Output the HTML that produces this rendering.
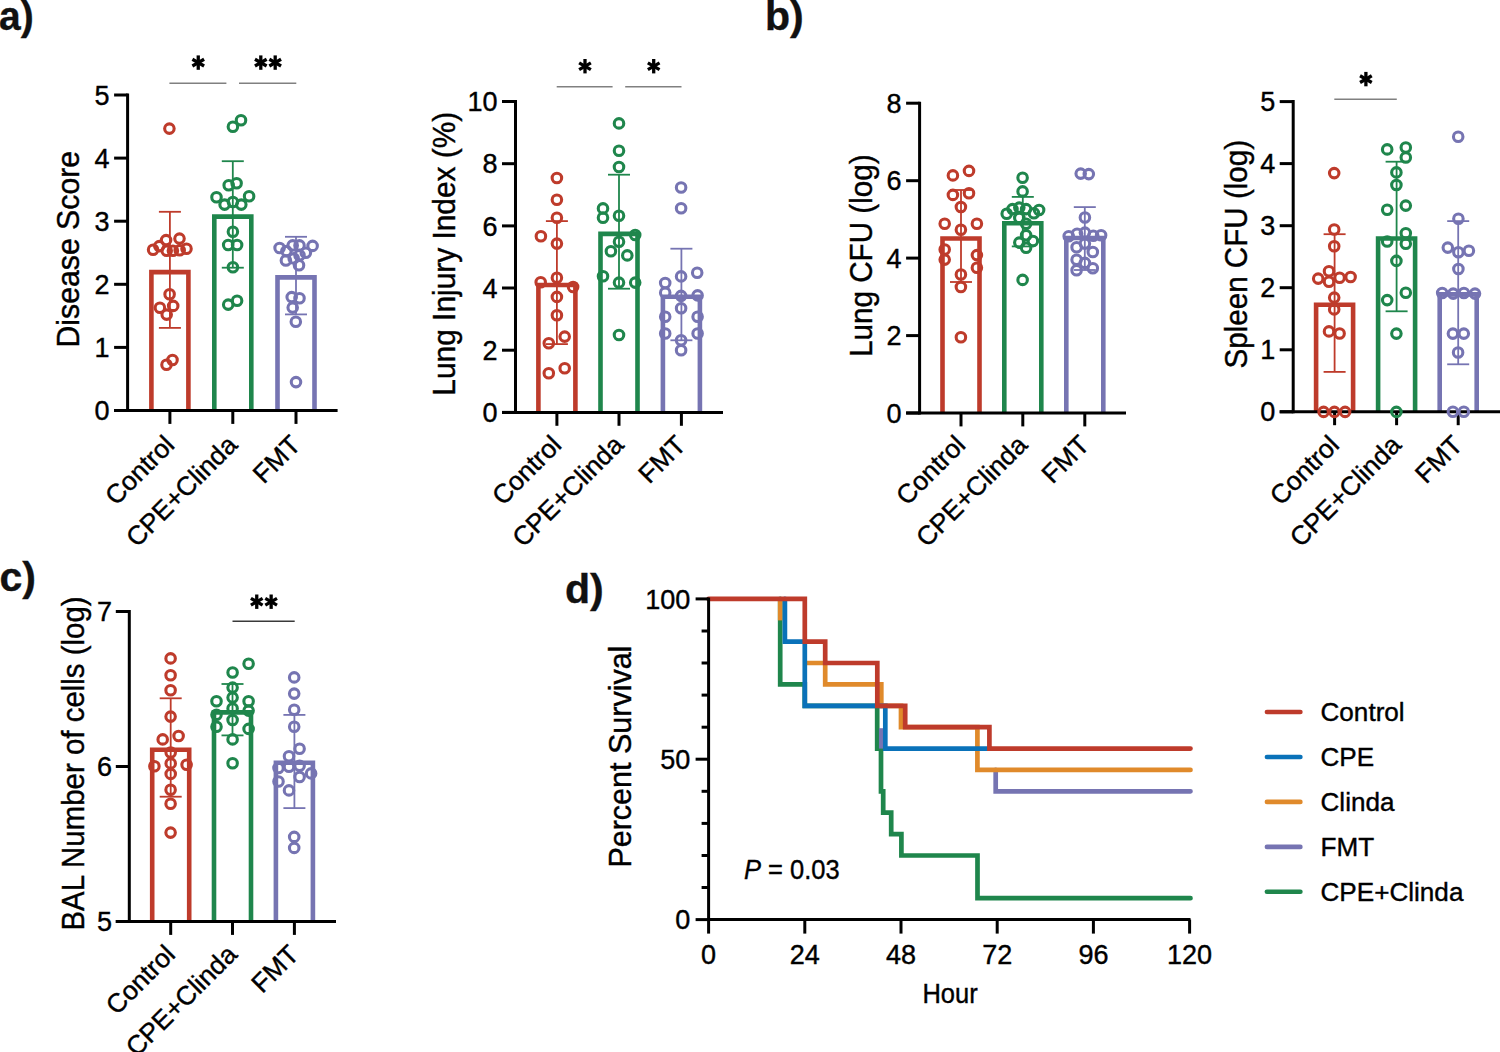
<!DOCTYPE html>
<html><head><meta charset="utf-8"><style>
html,body{margin:0;padding:0;background:#fff;width:1500px;height:1052px;overflow:hidden}
svg{display:block}
</style></head><body>
<svg width="1500" height="1052" viewBox="0 0 1500 1052">
<rect width="1500" height="1052" fill="#fff"/>
<path d="M151.4,410.5 V272.1 H188.4 V410.5" fill="none" stroke="#BE3B2B" stroke-width="4.6"/>
<path d="M214.3,410.5 V216.6 H251.3 V410.5" fill="none" stroke="#1F864C" stroke-width="4.6"/>
<path d="M277.5,410.5 V277.4 H314.5 V410.5" fill="none" stroke="#7674B2" stroke-width="4.6"/>
<line x1="169.9" y1="211.8" x2="169.9" y2="327.9" stroke="#BE3B2B" stroke-width="1.8" stroke-linecap="butt"/>
<line x1="158.9" y1="211.8" x2="180.9" y2="211.8" stroke="#BE3B2B" stroke-width="1.8" stroke-linecap="butt"/>
<line x1="158.9" y1="327.9" x2="180.9" y2="327.9" stroke="#BE3B2B" stroke-width="1.8" stroke-linecap="butt"/>
<line x1="232.8" y1="161.2" x2="232.8" y2="267.7" stroke="#1F864C" stroke-width="1.8" stroke-linecap="butt"/>
<line x1="221.8" y1="161.2" x2="243.8" y2="161.2" stroke="#1F864C" stroke-width="1.8" stroke-linecap="butt"/>
<line x1="221.8" y1="267.7" x2="243.8" y2="267.7" stroke="#1F864C" stroke-width="1.8" stroke-linecap="butt"/>
<line x1="296.0" y1="236.8" x2="296.0" y2="314.4" stroke="#7674B2" stroke-width="1.8" stroke-linecap="butt"/>
<line x1="285.0" y1="236.8" x2="307.0" y2="236.8" stroke="#7674B2" stroke-width="1.8" stroke-linecap="butt"/>
<line x1="285.0" y1="314.4" x2="307.0" y2="314.4" stroke="#7674B2" stroke-width="1.8" stroke-linecap="butt"/>
<line x1="127.6" y1="93.5" x2="127.6" y2="412.0" stroke="#000" stroke-width="3" stroke-linecap="butt"/>
<line x1="114.1" y1="410.5" x2="337.6" y2="410.5" stroke="#000" stroke-width="3" stroke-linecap="butt"/>
<line x1="114.1" y1="410.5" x2="127.6" y2="410.5" stroke="#000" stroke-width="3" stroke-linecap="butt"/>
<text x="109.6" y="420.1" font-family="Liberation Sans, sans-serif" font-size="28" font-weight="normal" text-anchor="end" fill="#000" stroke="#000" stroke-width="0.4" textLength="15.03" lengthAdjust="spacingAndGlyphs">0</text>
<line x1="114.1" y1="347.4" x2="127.6" y2="347.4" stroke="#000" stroke-width="3" stroke-linecap="butt"/>
<text x="109.6" y="357.0" font-family="Liberation Sans, sans-serif" font-size="28" font-weight="normal" text-anchor="end" fill="#000" stroke="#000" stroke-width="0.4" textLength="15.03" lengthAdjust="spacingAndGlyphs">1</text>
<line x1="114.1" y1="284.3" x2="127.6" y2="284.3" stroke="#000" stroke-width="3" stroke-linecap="butt"/>
<text x="109.6" y="293.9" font-family="Liberation Sans, sans-serif" font-size="28" font-weight="normal" text-anchor="end" fill="#000" stroke="#000" stroke-width="0.4" textLength="15.03" lengthAdjust="spacingAndGlyphs">2</text>
<line x1="114.1" y1="221.2" x2="127.6" y2="221.2" stroke="#000" stroke-width="3" stroke-linecap="butt"/>
<text x="109.6" y="230.8" font-family="Liberation Sans, sans-serif" font-size="28" font-weight="normal" text-anchor="end" fill="#000" stroke="#000" stroke-width="0.4" textLength="15.03" lengthAdjust="spacingAndGlyphs">3</text>
<line x1="114.1" y1="158.1" x2="127.6" y2="158.1" stroke="#000" stroke-width="3" stroke-linecap="butt"/>
<text x="109.6" y="167.7" font-family="Liberation Sans, sans-serif" font-size="28" font-weight="normal" text-anchor="end" fill="#000" stroke="#000" stroke-width="0.4" textLength="15.03" lengthAdjust="spacingAndGlyphs">4</text>
<line x1="114.1" y1="95.0" x2="127.6" y2="95.0" stroke="#000" stroke-width="3" stroke-linecap="butt"/>
<text x="109.6" y="104.6" font-family="Liberation Sans, sans-serif" font-size="28" font-weight="normal" text-anchor="end" fill="#000" stroke="#000" stroke-width="0.4" textLength="15.03" lengthAdjust="spacingAndGlyphs">5</text>
<line x1="169.9" y1="410.5" x2="169.9" y2="423.9" stroke="#000" stroke-width="3" stroke-linecap="butt"/>
<line x1="232.8" y1="410.5" x2="232.8" y2="423.9" stroke="#000" stroke-width="3" stroke-linecap="butt"/>
<line x1="296.0" y1="410.5" x2="296.0" y2="423.9" stroke="#000" stroke-width="3" stroke-linecap="butt"/>
<text x="175.9" y="446.5" font-family="Liberation Sans, sans-serif" font-size="26.3" font-weight="normal" text-anchor="end" fill="#000" stroke="#000" stroke-width="0.4" transform="rotate(-45 175.9 446.5)">Control</text>
<text x="238.8" y="446.5" font-family="Liberation Sans, sans-serif" font-size="26.3" font-weight="normal" text-anchor="end" fill="#000" stroke="#000" stroke-width="0.4" transform="rotate(-45 238.8 446.5)">CPE+Clinda</text>
<text x="302.0" y="446.5" font-family="Liberation Sans, sans-serif" font-size="26.3" font-weight="normal" text-anchor="end" fill="#000" stroke="#000" stroke-width="0.4" transform="rotate(-45 302.0 446.5)">FMT</text>
<circle cx="169.4" cy="128.6" r="4.75" fill="none" stroke="#BE3B2B" stroke-width="3.1"/>
<circle cx="153.1" cy="249.8" r="4.75" fill="none" stroke="#BE3B2B" stroke-width="3.1"/>
<circle cx="159.3" cy="246.1" r="4.75" fill="none" stroke="#BE3B2B" stroke-width="3.1"/>
<circle cx="166.1" cy="240.1" r="4.75" fill="none" stroke="#BE3B2B" stroke-width="3.1"/>
<circle cx="179.5" cy="238.6" r="4.75" fill="none" stroke="#BE3B2B" stroke-width="3.1"/>
<circle cx="186.5" cy="248.7" r="4.75" fill="none" stroke="#BE3B2B" stroke-width="3.1"/>
<circle cx="166.7" cy="250.8" r="4.75" fill="none" stroke="#BE3B2B" stroke-width="3.1"/>
<circle cx="172.9" cy="250.8" r="4.75" fill="none" stroke="#BE3B2B" stroke-width="3.1"/>
<circle cx="179.7" cy="250.3" r="4.75" fill="none" stroke="#BE3B2B" stroke-width="3.1"/>
<circle cx="169.6" cy="294.2" r="4.75" fill="none" stroke="#BE3B2B" stroke-width="3.1"/>
<circle cx="159.9" cy="307.8" r="4.75" fill="none" stroke="#BE3B2B" stroke-width="3.1"/>
<circle cx="173.2" cy="305.9" r="4.75" fill="none" stroke="#BE3B2B" stroke-width="3.1"/>
<circle cx="166.7" cy="314.6" r="4.75" fill="none" stroke="#BE3B2B" stroke-width="3.1"/>
<circle cx="166.5" cy="364.8" r="4.75" fill="none" stroke="#BE3B2B" stroke-width="3.1"/>
<circle cx="172.5" cy="360.0" r="4.75" fill="none" stroke="#BE3B2B" stroke-width="3.1"/>
<circle cx="232.9" cy="126.7" r="4.75" fill="none" stroke="#1F864C" stroke-width="3.1"/>
<circle cx="241.0" cy="120.2" r="4.75" fill="none" stroke="#1F864C" stroke-width="3.1"/>
<circle cx="228.7" cy="185.3" r="4.75" fill="none" stroke="#1F864C" stroke-width="3.1"/>
<circle cx="236.6" cy="183.2" r="4.75" fill="none" stroke="#1F864C" stroke-width="3.1"/>
<circle cx="216.5" cy="197.3" r="4.75" fill="none" stroke="#1F864C" stroke-width="3.1"/>
<circle cx="224.6" cy="204.6" r="4.75" fill="none" stroke="#1F864C" stroke-width="3.1"/>
<circle cx="232.9" cy="202.0" r="4.75" fill="none" stroke="#1F864C" stroke-width="3.1"/>
<circle cx="241.3" cy="204.6" r="4.75" fill="none" stroke="#1F864C" stroke-width="3.1"/>
<circle cx="249.1" cy="196.2" r="4.75" fill="none" stroke="#1F864C" stroke-width="3.1"/>
<circle cx="232.9" cy="231.7" r="4.75" fill="none" stroke="#1F864C" stroke-width="3.1"/>
<circle cx="228.2" cy="245.0" r="4.75" fill="none" stroke="#1F864C" stroke-width="3.1"/>
<circle cx="237.1" cy="245.0" r="4.75" fill="none" stroke="#1F864C" stroke-width="3.1"/>
<circle cx="232.9" cy="267.3" r="4.75" fill="none" stroke="#1F864C" stroke-width="3.1"/>
<circle cx="228.2" cy="304.6" r="4.75" fill="none" stroke="#1F864C" stroke-width="3.1"/>
<circle cx="237.1" cy="300.7" r="4.75" fill="none" stroke="#1F864C" stroke-width="3.1"/>
<circle cx="279.6" cy="248.0" r="4.75" fill="none" stroke="#7674B2" stroke-width="3.1"/>
<circle cx="292.7" cy="245.4" r="4.75" fill="none" stroke="#7674B2" stroke-width="3.1"/>
<circle cx="299.5" cy="245.4" r="4.75" fill="none" stroke="#7674B2" stroke-width="3.1"/>
<circle cx="312.6" cy="245.9" r="4.75" fill="none" stroke="#7674B2" stroke-width="3.1"/>
<circle cx="286.4" cy="251.1" r="4.75" fill="none" stroke="#7674B2" stroke-width="3.1"/>
<circle cx="305.8" cy="252.7" r="4.75" fill="none" stroke="#7674B2" stroke-width="3.1"/>
<circle cx="285.9" cy="260.5" r="4.75" fill="none" stroke="#7674B2" stroke-width="3.1"/>
<circle cx="293.7" cy="258.4" r="4.75" fill="none" stroke="#7674B2" stroke-width="3.1"/>
<circle cx="299.5" cy="255.3" r="4.75" fill="none" stroke="#7674B2" stroke-width="3.1"/>
<circle cx="299.0" cy="265.2" r="4.75" fill="none" stroke="#7674B2" stroke-width="3.1"/>
<circle cx="291.7" cy="297.1" r="4.75" fill="none" stroke="#7674B2" stroke-width="3.1"/>
<circle cx="299.5" cy="298.2" r="4.75" fill="none" stroke="#7674B2" stroke-width="3.1"/>
<circle cx="292.7" cy="307.6" r="4.75" fill="none" stroke="#7674B2" stroke-width="3.1"/>
<circle cx="295.8" cy="321.7" r="4.75" fill="none" stroke="#7674B2" stroke-width="3.1"/>
<circle cx="296.0" cy="382.1" r="4.75" fill="none" stroke="#7674B2" stroke-width="3.1"/>
<text x="78.8" y="249.2" font-family="Liberation Sans, sans-serif" font-size="31" font-weight="normal" text-anchor="middle" fill="#000" stroke="#000" stroke-width="0.4" transform="rotate(-90 78.8 249.2)" textLength="196.6" lengthAdjust="spacingAndGlyphs">Disease Score</text>
<line x1="169.4" y1="83.2" x2="226.4" y2="83.2" stroke="#808080" stroke-width="1.6" stroke-linecap="butt"/>
<line x1="198.25" y1="55.40" x2="198.25" y2="69.80" stroke="#000" stroke-width="3.3"/>
<line x1="192.40" y1="59.23" x2="204.10" y2="65.97" stroke="#000" stroke-width="3.3"/>
<line x1="192.40" y1="65.97" x2="204.10" y2="59.23" stroke="#000" stroke-width="3.3"/>
<line x1="239.0" y1="83.2" x2="296.3" y2="83.2" stroke="#808080" stroke-width="1.6" stroke-linecap="butt"/>
<line x1="260.80" y1="55.40" x2="260.80" y2="69.80" stroke="#000" stroke-width="3.3"/>
<line x1="254.95" y1="59.23" x2="266.65" y2="65.97" stroke="#000" stroke-width="3.3"/>
<line x1="254.95" y1="65.97" x2="266.65" y2="59.23" stroke="#000" stroke-width="3.3"/>
<line x1="275.20" y1="55.40" x2="275.20" y2="69.80" stroke="#000" stroke-width="3.3"/>
<line x1="269.35" y1="59.23" x2="281.05" y2="65.97" stroke="#000" stroke-width="3.3"/>
<line x1="269.35" y1="65.97" x2="281.05" y2="59.23" stroke="#000" stroke-width="3.3"/>
<path d="M538.4,412.4 V285.0 H575.4 V412.4" fill="none" stroke="#BE3B2B" stroke-width="4.6"/>
<path d="M600.5,412.4 V233.9 H637.5 V412.4" fill="none" stroke="#1F864C" stroke-width="4.6"/>
<path d="M662.9,412.4 V296.7 H699.9 V412.4" fill="none" stroke="#7674B2" stroke-width="4.6"/>
<line x1="556.9" y1="221.1" x2="556.9" y2="344.1" stroke="#BE3B2B" stroke-width="1.8" stroke-linecap="butt"/>
<line x1="545.9" y1="221.1" x2="567.9" y2="221.1" stroke="#BE3B2B" stroke-width="1.8" stroke-linecap="butt"/>
<line x1="545.9" y1="344.1" x2="567.9" y2="344.1" stroke="#BE3B2B" stroke-width="1.8" stroke-linecap="butt"/>
<line x1="619.0" y1="174.7" x2="619.0" y2="288.7" stroke="#1F864C" stroke-width="1.8" stroke-linecap="butt"/>
<line x1="608.0" y1="174.7" x2="630.0" y2="174.7" stroke="#1F864C" stroke-width="1.8" stroke-linecap="butt"/>
<line x1="608.0" y1="288.7" x2="630.0" y2="288.7" stroke="#1F864C" stroke-width="1.8" stroke-linecap="butt"/>
<line x1="681.4" y1="248.7" x2="681.4" y2="340.3" stroke="#7674B2" stroke-width="1.8" stroke-linecap="butt"/>
<line x1="670.4" y1="248.7" x2="692.4" y2="248.7" stroke="#7674B2" stroke-width="1.8" stroke-linecap="butt"/>
<line x1="670.4" y1="340.3" x2="692.4" y2="340.3" stroke="#7674B2" stroke-width="1.8" stroke-linecap="butt"/>
<line x1="515.5" y1="100.0" x2="515.5" y2="413.9" stroke="#000" stroke-width="3" stroke-linecap="butt"/>
<line x1="502.0" y1="412.4" x2="723.0" y2="412.4" stroke="#000" stroke-width="3" stroke-linecap="butt"/>
<line x1="502.0" y1="412.4" x2="515.5" y2="412.4" stroke="#000" stroke-width="3" stroke-linecap="butt"/>
<text x="497.5" y="422.0" font-family="Liberation Sans, sans-serif" font-size="28" font-weight="normal" text-anchor="end" fill="#000" stroke="#000" stroke-width="0.4" textLength="15.03" lengthAdjust="spacingAndGlyphs">0</text>
<line x1="502.0" y1="350.2" x2="515.5" y2="350.2" stroke="#000" stroke-width="3" stroke-linecap="butt"/>
<text x="497.5" y="359.8" font-family="Liberation Sans, sans-serif" font-size="28" font-weight="normal" text-anchor="end" fill="#000" stroke="#000" stroke-width="0.4" textLength="15.03" lengthAdjust="spacingAndGlyphs">2</text>
<line x1="502.0" y1="288.0" x2="515.5" y2="288.0" stroke="#000" stroke-width="3" stroke-linecap="butt"/>
<text x="497.5" y="297.6" font-family="Liberation Sans, sans-serif" font-size="28" font-weight="normal" text-anchor="end" fill="#000" stroke="#000" stroke-width="0.4" textLength="15.03" lengthAdjust="spacingAndGlyphs">4</text>
<line x1="502.0" y1="225.9" x2="515.5" y2="225.9" stroke="#000" stroke-width="3" stroke-linecap="butt"/>
<text x="497.5" y="235.5" font-family="Liberation Sans, sans-serif" font-size="28" font-weight="normal" text-anchor="end" fill="#000" stroke="#000" stroke-width="0.4" textLength="15.03" lengthAdjust="spacingAndGlyphs">6</text>
<line x1="502.0" y1="163.7" x2="515.5" y2="163.7" stroke="#000" stroke-width="3" stroke-linecap="butt"/>
<text x="497.5" y="173.3" font-family="Liberation Sans, sans-serif" font-size="28" font-weight="normal" text-anchor="end" fill="#000" stroke="#000" stroke-width="0.4" textLength="15.03" lengthAdjust="spacingAndGlyphs">8</text>
<line x1="502.0" y1="101.5" x2="515.5" y2="101.5" stroke="#000" stroke-width="3" stroke-linecap="butt"/>
<text x="497.5" y="111.1" font-family="Liberation Sans, sans-serif" font-size="28" font-weight="normal" text-anchor="end" fill="#000" stroke="#000" stroke-width="0.4" textLength="30.05" lengthAdjust="spacingAndGlyphs">10</text>
<line x1="556.9" y1="412.4" x2="556.9" y2="425.8" stroke="#000" stroke-width="3" stroke-linecap="butt"/>
<line x1="619.0" y1="412.4" x2="619.0" y2="425.8" stroke="#000" stroke-width="3" stroke-linecap="butt"/>
<line x1="681.4" y1="412.4" x2="681.4" y2="425.8" stroke="#000" stroke-width="3" stroke-linecap="butt"/>
<text x="562.9" y="446.5" font-family="Liberation Sans, sans-serif" font-size="26.3" font-weight="normal" text-anchor="end" fill="#000" stroke="#000" stroke-width="0.4" transform="rotate(-45 562.9 446.5)">Control</text>
<text x="625.0" y="446.5" font-family="Liberation Sans, sans-serif" font-size="26.3" font-weight="normal" text-anchor="end" fill="#000" stroke="#000" stroke-width="0.4" transform="rotate(-45 625.0 446.5)">CPE+Clinda</text>
<text x="687.4" y="446.5" font-family="Liberation Sans, sans-serif" font-size="26.3" font-weight="normal" text-anchor="end" fill="#000" stroke="#000" stroke-width="0.4" transform="rotate(-45 687.4 446.5)">FMT</text>
<circle cx="556.9" cy="178.0" r="4.75" fill="none" stroke="#BE3B2B" stroke-width="3.1"/>
<circle cx="556.9" cy="199.7" r="4.75" fill="none" stroke="#BE3B2B" stroke-width="3.1"/>
<circle cx="556.9" cy="217.7" r="4.75" fill="none" stroke="#BE3B2B" stroke-width="3.1"/>
<circle cx="540.9" cy="236.3" r="4.75" fill="none" stroke="#BE3B2B" stroke-width="3.1"/>
<circle cx="556.9" cy="243.6" r="4.75" fill="none" stroke="#BE3B2B" stroke-width="3.1"/>
<circle cx="556.9" cy="277.8" r="4.75" fill="none" stroke="#BE3B2B" stroke-width="3.1"/>
<circle cx="540.7" cy="282.2" r="4.75" fill="none" stroke="#BE3B2B" stroke-width="3.1"/>
<circle cx="573.1" cy="287.0" r="4.75" fill="none" stroke="#BE3B2B" stroke-width="3.1"/>
<circle cx="556.9" cy="296.9" r="4.75" fill="none" stroke="#BE3B2B" stroke-width="3.1"/>
<circle cx="556.9" cy="315.2" r="4.75" fill="none" stroke="#BE3B2B" stroke-width="3.1"/>
<circle cx="564.7" cy="336.6" r="4.75" fill="none" stroke="#BE3B2B" stroke-width="3.1"/>
<circle cx="548.8" cy="343.2" r="4.75" fill="none" stroke="#BE3B2B" stroke-width="3.1"/>
<circle cx="564.7" cy="368.3" r="4.75" fill="none" stroke="#BE3B2B" stroke-width="3.1"/>
<circle cx="548.8" cy="373.2" r="4.75" fill="none" stroke="#BE3B2B" stroke-width="3.1"/>
<circle cx="619.0" cy="123.4" r="4.75" fill="none" stroke="#1F864C" stroke-width="3.1"/>
<circle cx="619.0" cy="150.8" r="4.75" fill="none" stroke="#1F864C" stroke-width="3.1"/>
<circle cx="619.0" cy="167.0" r="4.75" fill="none" stroke="#1F864C" stroke-width="3.1"/>
<circle cx="603.0" cy="208.4" r="4.75" fill="none" stroke="#1F864C" stroke-width="3.1"/>
<circle cx="603.0" cy="217.8" r="4.75" fill="none" stroke="#1F864C" stroke-width="3.1"/>
<circle cx="619.0" cy="215.7" r="4.75" fill="none" stroke="#1F864C" stroke-width="3.1"/>
<circle cx="635.2" cy="235.0" r="4.75" fill="none" stroke="#1F864C" stroke-width="3.1"/>
<circle cx="619.0" cy="241.8" r="4.75" fill="none" stroke="#1F864C" stroke-width="3.1"/>
<circle cx="610.9" cy="251.2" r="4.75" fill="none" stroke="#1F864C" stroke-width="3.1"/>
<circle cx="627.3" cy="255.4" r="4.75" fill="none" stroke="#1F864C" stroke-width="3.1"/>
<circle cx="603.0" cy="276.3" r="4.75" fill="none" stroke="#1F864C" stroke-width="3.1"/>
<circle cx="619.0" cy="282.6" r="4.75" fill="none" stroke="#1F864C" stroke-width="3.1"/>
<circle cx="635.2" cy="282.6" r="4.75" fill="none" stroke="#1F864C" stroke-width="3.1"/>
<circle cx="619.0" cy="335.0" r="4.75" fill="none" stroke="#1F864C" stroke-width="3.1"/>
<circle cx="681.1" cy="187.5" r="4.75" fill="none" stroke="#7674B2" stroke-width="3.1"/>
<circle cx="681.1" cy="208.2" r="4.75" fill="none" stroke="#7674B2" stroke-width="3.1"/>
<circle cx="697.2" cy="272.7" r="4.75" fill="none" stroke="#7674B2" stroke-width="3.1"/>
<circle cx="681.1" cy="276.4" r="4.75" fill="none" stroke="#7674B2" stroke-width="3.1"/>
<circle cx="665.2" cy="283.0" r="4.75" fill="none" stroke="#7674B2" stroke-width="3.1"/>
<circle cx="665.2" cy="292.8" r="4.75" fill="none" stroke="#7674B2" stroke-width="3.1"/>
<circle cx="681.1" cy="295.9" r="4.75" fill="none" stroke="#7674B2" stroke-width="3.1"/>
<circle cx="697.6" cy="295.4" r="4.75" fill="none" stroke="#7674B2" stroke-width="3.1"/>
<circle cx="681.1" cy="308.2" r="4.75" fill="none" stroke="#7674B2" stroke-width="3.1"/>
<circle cx="665.2" cy="316.8" r="4.75" fill="none" stroke="#7674B2" stroke-width="3.1"/>
<circle cx="697.6" cy="316.8" r="4.75" fill="none" stroke="#7674B2" stroke-width="3.1"/>
<circle cx="665.2" cy="333.5" r="4.75" fill="none" stroke="#7674B2" stroke-width="3.1"/>
<circle cx="697.6" cy="333.5" r="4.75" fill="none" stroke="#7674B2" stroke-width="3.1"/>
<circle cx="681.1" cy="340.3" r="4.75" fill="none" stroke="#7674B2" stroke-width="3.1"/>
<circle cx="681.1" cy="350.3" r="4.75" fill="none" stroke="#7674B2" stroke-width="3.1"/>
<text x="455.5" y="253.7" font-family="Liberation Sans, sans-serif" font-size="31" font-weight="normal" text-anchor="middle" fill="#000" stroke="#000" stroke-width="0.4" transform="rotate(-90 455.5 253.7)" textLength="283.9" lengthAdjust="spacingAndGlyphs">Lung Injury Index (%)</text>
<line x1="556.7" y1="86.8" x2="612.6" y2="86.8" stroke="#808080" stroke-width="1.6" stroke-linecap="butt"/>
<line x1="585.00" y1="59.00" x2="585.00" y2="73.40" stroke="#000" stroke-width="3.3"/>
<line x1="579.15" y1="62.82" x2="590.85" y2="69.57" stroke="#000" stroke-width="3.3"/>
<line x1="579.15" y1="69.57" x2="590.85" y2="62.82" stroke="#000" stroke-width="3.3"/>
<line x1="625.2" y1="86.8" x2="681.5" y2="86.8" stroke="#808080" stroke-width="1.6" stroke-linecap="butt"/>
<line x1="653.70" y1="59.00" x2="653.70" y2="73.40" stroke="#000" stroke-width="3.3"/>
<line x1="647.85" y1="62.82" x2="659.55" y2="69.57" stroke="#000" stroke-width="3.3"/>
<line x1="647.85" y1="69.57" x2="659.55" y2="62.82" stroke="#000" stroke-width="3.3"/>
<path d="M942.5,413.0 V238.5 H979.5 V413.0" fill="none" stroke="#BE3B2B" stroke-width="4.6"/>
<path d="M1004.3,413.0 V223.3 H1041.3 V413.0" fill="none" stroke="#1F864C" stroke-width="4.6"/>
<path d="M1066.3,413.0 V238.0 H1103.3 V413.0" fill="none" stroke="#7674B2" stroke-width="4.6"/>
<line x1="961.0" y1="190.0" x2="961.0" y2="282.0" stroke="#BE3B2B" stroke-width="1.8" stroke-linecap="butt"/>
<line x1="950.0" y1="190.0" x2="972.0" y2="190.0" stroke="#BE3B2B" stroke-width="1.8" stroke-linecap="butt"/>
<line x1="950.0" y1="282.0" x2="972.0" y2="282.0" stroke="#BE3B2B" stroke-width="1.8" stroke-linecap="butt"/>
<line x1="1022.8" y1="196.9" x2="1022.8" y2="246.4" stroke="#1F864C" stroke-width="1.8" stroke-linecap="butt"/>
<line x1="1011.8" y1="196.9" x2="1033.8" y2="196.9" stroke="#1F864C" stroke-width="1.8" stroke-linecap="butt"/>
<line x1="1011.8" y1="246.4" x2="1033.8" y2="246.4" stroke="#1F864C" stroke-width="1.8" stroke-linecap="butt"/>
<line x1="1084.8" y1="207.1" x2="1084.8" y2="270.0" stroke="#7674B2" stroke-width="1.8" stroke-linecap="butt"/>
<line x1="1073.8" y1="207.1" x2="1095.8" y2="207.1" stroke="#7674B2" stroke-width="1.8" stroke-linecap="butt"/>
<line x1="1073.8" y1="270.0" x2="1095.8" y2="270.0" stroke="#7674B2" stroke-width="1.8" stroke-linecap="butt"/>
<line x1="919.6" y1="101.8" x2="919.6" y2="414.5" stroke="#000" stroke-width="3" stroke-linecap="butt"/>
<line x1="906.1" y1="413.0" x2="1126.0" y2="413.0" stroke="#000" stroke-width="3" stroke-linecap="butt"/>
<line x1="906.1" y1="413.0" x2="919.6" y2="413.0" stroke="#000" stroke-width="3" stroke-linecap="butt"/>
<text x="901.6" y="422.6" font-family="Liberation Sans, sans-serif" font-size="28" font-weight="normal" text-anchor="end" fill="#000" stroke="#000" stroke-width="0.4" textLength="15.03" lengthAdjust="spacingAndGlyphs">0</text>
<line x1="906.1" y1="335.6" x2="919.6" y2="335.6" stroke="#000" stroke-width="3" stroke-linecap="butt"/>
<text x="901.6" y="345.2" font-family="Liberation Sans, sans-serif" font-size="28" font-weight="normal" text-anchor="end" fill="#000" stroke="#000" stroke-width="0.4" textLength="15.03" lengthAdjust="spacingAndGlyphs">2</text>
<line x1="906.1" y1="258.1" x2="919.6" y2="258.1" stroke="#000" stroke-width="3" stroke-linecap="butt"/>
<text x="901.6" y="267.7" font-family="Liberation Sans, sans-serif" font-size="28" font-weight="normal" text-anchor="end" fill="#000" stroke="#000" stroke-width="0.4" textLength="15.03" lengthAdjust="spacingAndGlyphs">4</text>
<line x1="906.1" y1="180.7" x2="919.6" y2="180.7" stroke="#000" stroke-width="3" stroke-linecap="butt"/>
<text x="901.6" y="190.3" font-family="Liberation Sans, sans-serif" font-size="28" font-weight="normal" text-anchor="end" fill="#000" stroke="#000" stroke-width="0.4" textLength="15.03" lengthAdjust="spacingAndGlyphs">6</text>
<line x1="906.1" y1="103.2" x2="919.6" y2="103.2" stroke="#000" stroke-width="3" stroke-linecap="butt"/>
<text x="901.6" y="112.8" font-family="Liberation Sans, sans-serif" font-size="28" font-weight="normal" text-anchor="end" fill="#000" stroke="#000" stroke-width="0.4" textLength="15.03" lengthAdjust="spacingAndGlyphs">8</text>
<line x1="961.0" y1="413.0" x2="961.0" y2="426.4" stroke="#000" stroke-width="3" stroke-linecap="butt"/>
<line x1="1022.8" y1="413.0" x2="1022.8" y2="426.4" stroke="#000" stroke-width="3" stroke-linecap="butt"/>
<line x1="1084.8" y1="413.0" x2="1084.8" y2="426.4" stroke="#000" stroke-width="3" stroke-linecap="butt"/>
<text x="967.0" y="446.5" font-family="Liberation Sans, sans-serif" font-size="26.3" font-weight="normal" text-anchor="end" fill="#000" stroke="#000" stroke-width="0.4" transform="rotate(-45 967.0 446.5)">Control</text>
<text x="1028.8" y="446.5" font-family="Liberation Sans, sans-serif" font-size="26.3" font-weight="normal" text-anchor="end" fill="#000" stroke="#000" stroke-width="0.4" transform="rotate(-45 1028.8 446.5)">CPE+Clinda</text>
<text x="1090.8" y="446.5" font-family="Liberation Sans, sans-serif" font-size="26.3" font-weight="normal" text-anchor="end" fill="#000" stroke="#000" stroke-width="0.4" transform="rotate(-45 1090.8 446.5)">FMT</text>
<circle cx="952.9" cy="175.4" r="4.75" fill="none" stroke="#BE3B2B" stroke-width="3.1"/>
<circle cx="969.0" cy="170.9" r="4.75" fill="none" stroke="#BE3B2B" stroke-width="3.1"/>
<circle cx="952.9" cy="194.9" r="4.75" fill="none" stroke="#BE3B2B" stroke-width="3.1"/>
<circle cx="969.0" cy="193.2" r="4.75" fill="none" stroke="#BE3B2B" stroke-width="3.1"/>
<circle cx="960.9" cy="207.0" r="4.75" fill="none" stroke="#BE3B2B" stroke-width="3.1"/>
<circle cx="944.7" cy="223.8" r="4.75" fill="none" stroke="#BE3B2B" stroke-width="3.1"/>
<circle cx="976.9" cy="223.8" r="4.75" fill="none" stroke="#BE3B2B" stroke-width="3.1"/>
<circle cx="960.9" cy="229.7" r="4.75" fill="none" stroke="#BE3B2B" stroke-width="3.1"/>
<circle cx="944.7" cy="249.5" r="4.75" fill="none" stroke="#BE3B2B" stroke-width="3.1"/>
<circle cx="944.7" cy="259.6" r="4.75" fill="none" stroke="#BE3B2B" stroke-width="3.1"/>
<circle cx="976.9" cy="255.1" r="4.75" fill="none" stroke="#BE3B2B" stroke-width="3.1"/>
<circle cx="976.9" cy="267.7" r="4.75" fill="none" stroke="#BE3B2B" stroke-width="3.1"/>
<circle cx="960.9" cy="274.5" r="4.75" fill="none" stroke="#BE3B2B" stroke-width="3.1"/>
<circle cx="960.9" cy="287.0" r="4.75" fill="none" stroke="#BE3B2B" stroke-width="3.1"/>
<circle cx="960.9" cy="337.2" r="4.75" fill="none" stroke="#BE3B2B" stroke-width="3.1"/>
<circle cx="1022.6" cy="177.8" r="4.75" fill="none" stroke="#1F864C" stroke-width="3.1"/>
<circle cx="1022.6" cy="191.4" r="4.75" fill="none" stroke="#1F864C" stroke-width="3.1"/>
<circle cx="1006.7" cy="213.8" r="4.75" fill="none" stroke="#1F864C" stroke-width="3.1"/>
<circle cx="1012.5" cy="209.1" r="4.75" fill="none" stroke="#1F864C" stroke-width="3.1"/>
<circle cx="1019.3" cy="207.6" r="4.75" fill="none" stroke="#1F864C" stroke-width="3.1"/>
<circle cx="1026.1" cy="209.1" r="4.75" fill="none" stroke="#1F864C" stroke-width="3.1"/>
<circle cx="1033.9" cy="213.3" r="4.75" fill="none" stroke="#1F864C" stroke-width="3.1"/>
<circle cx="1039.1" cy="210.0" r="4.75" fill="none" stroke="#1F864C" stroke-width="3.1"/>
<circle cx="1019.3" cy="218.0" r="4.75" fill="none" stroke="#1F864C" stroke-width="3.1"/>
<circle cx="1026.1" cy="223.8" r="4.75" fill="none" stroke="#1F864C" stroke-width="3.1"/>
<circle cx="1026.1" cy="235.3" r="4.75" fill="none" stroke="#1F864C" stroke-width="3.1"/>
<circle cx="1019.3" cy="242.6" r="4.75" fill="none" stroke="#1F864C" stroke-width="3.1"/>
<circle cx="1032.9" cy="241.0" r="4.75" fill="none" stroke="#1F864C" stroke-width="3.1"/>
<circle cx="1026.1" cy="247.8" r="4.75" fill="none" stroke="#1F864C" stroke-width="3.1"/>
<circle cx="1022.6" cy="279.9" r="4.75" fill="none" stroke="#1F864C" stroke-width="3.1"/>
<circle cx="1080.7" cy="173.6" r="4.75" fill="none" stroke="#7674B2" stroke-width="3.1"/>
<circle cx="1088.8" cy="174.1" r="4.75" fill="none" stroke="#7674B2" stroke-width="3.1"/>
<circle cx="1084.9" cy="217.5" r="4.75" fill="none" stroke="#7674B2" stroke-width="3.1"/>
<circle cx="1068.7" cy="236.3" r="4.75" fill="none" stroke="#7674B2" stroke-width="3.1"/>
<circle cx="1077.1" cy="233.7" r="4.75" fill="none" stroke="#7674B2" stroke-width="3.1"/>
<circle cx="1084.9" cy="232.6" r="4.75" fill="none" stroke="#7674B2" stroke-width="3.1"/>
<circle cx="1093.3" cy="235.8" r="4.75" fill="none" stroke="#7674B2" stroke-width="3.1"/>
<circle cx="1101.1" cy="235.3" r="4.75" fill="none" stroke="#7674B2" stroke-width="3.1"/>
<circle cx="1084.9" cy="243.6" r="4.75" fill="none" stroke="#7674B2" stroke-width="3.1"/>
<circle cx="1076.6" cy="247.2" r="4.75" fill="none" stroke="#7674B2" stroke-width="3.1"/>
<circle cx="1092.8" cy="252.0" r="4.75" fill="none" stroke="#7674B2" stroke-width="3.1"/>
<circle cx="1076.6" cy="259.8" r="4.75" fill="none" stroke="#7674B2" stroke-width="3.1"/>
<circle cx="1084.9" cy="262.9" r="4.75" fill="none" stroke="#7674B2" stroke-width="3.1"/>
<circle cx="1092.8" cy="268.2" r="4.75" fill="none" stroke="#7674B2" stroke-width="3.1"/>
<circle cx="1076.6" cy="270.2" r="4.75" fill="none" stroke="#7674B2" stroke-width="3.1"/>
<text x="872.1" y="255.7" font-family="Liberation Sans, sans-serif" font-size="31" font-weight="normal" text-anchor="middle" fill="#000" stroke="#000" stroke-width="0.4" transform="rotate(-90 872.1 255.7)" textLength="202.5" lengthAdjust="spacingAndGlyphs">Lung CFU (log)</text>
<path d="M1316.1,411.8 V304.7 H1353.1 V411.8" fill="none" stroke="#BE3B2B" stroke-width="4.6"/>
<path d="M1378.1,411.8 V238.5 H1415.1 V411.8" fill="none" stroke="#1F864C" stroke-width="4.6"/>
<path d="M1439.7,411.8 V294.4 H1476.7 V411.8" fill="none" stroke="#7674B2" stroke-width="4.6"/>
<line x1="1334.6" y1="234.2" x2="1334.6" y2="371.9" stroke="#BE3B2B" stroke-width="1.8" stroke-linecap="butt"/>
<line x1="1323.6" y1="234.2" x2="1345.6" y2="234.2" stroke="#BE3B2B" stroke-width="1.8" stroke-linecap="butt"/>
<line x1="1323.6" y1="371.9" x2="1345.6" y2="371.9" stroke="#BE3B2B" stroke-width="1.8" stroke-linecap="butt"/>
<line x1="1396.6" y1="161.7" x2="1396.6" y2="311.3" stroke="#1F864C" stroke-width="1.8" stroke-linecap="butt"/>
<line x1="1385.6" y1="161.7" x2="1407.6" y2="161.7" stroke="#1F864C" stroke-width="1.8" stroke-linecap="butt"/>
<line x1="1385.6" y1="311.3" x2="1407.6" y2="311.3" stroke="#1F864C" stroke-width="1.8" stroke-linecap="butt"/>
<line x1="1458.2" y1="221.1" x2="1458.2" y2="364.3" stroke="#7674B2" stroke-width="1.8" stroke-linecap="butt"/>
<line x1="1447.2" y1="221.1" x2="1469.2" y2="221.1" stroke="#7674B2" stroke-width="1.8" stroke-linecap="butt"/>
<line x1="1447.2" y1="364.3" x2="1469.2" y2="364.3" stroke="#7674B2" stroke-width="1.8" stroke-linecap="butt"/>
<line x1="1293.2" y1="100.1" x2="1293.2" y2="413.3" stroke="#000" stroke-width="3" stroke-linecap="butt"/>
<line x1="1279.7" y1="411.8" x2="1500.0" y2="411.8" stroke="#000" stroke-width="3" stroke-linecap="butt"/>
<line x1="1279.7" y1="411.8" x2="1293.2" y2="411.8" stroke="#000" stroke-width="3" stroke-linecap="butt"/>
<text x="1275.2" y="421.4" font-family="Liberation Sans, sans-serif" font-size="28" font-weight="normal" text-anchor="end" fill="#000" stroke="#000" stroke-width="0.4" textLength="15.03" lengthAdjust="spacingAndGlyphs">0</text>
<line x1="1279.7" y1="349.8" x2="1293.2" y2="349.8" stroke="#000" stroke-width="3" stroke-linecap="butt"/>
<text x="1275.2" y="359.4" font-family="Liberation Sans, sans-serif" font-size="28" font-weight="normal" text-anchor="end" fill="#000" stroke="#000" stroke-width="0.4" textLength="15.03" lengthAdjust="spacingAndGlyphs">1</text>
<line x1="1279.7" y1="287.7" x2="1293.2" y2="287.7" stroke="#000" stroke-width="3" stroke-linecap="butt"/>
<text x="1275.2" y="297.3" font-family="Liberation Sans, sans-serif" font-size="28" font-weight="normal" text-anchor="end" fill="#000" stroke="#000" stroke-width="0.4" textLength="15.03" lengthAdjust="spacingAndGlyphs">2</text>
<line x1="1279.7" y1="225.7" x2="1293.2" y2="225.7" stroke="#000" stroke-width="3" stroke-linecap="butt"/>
<text x="1275.2" y="235.3" font-family="Liberation Sans, sans-serif" font-size="28" font-weight="normal" text-anchor="end" fill="#000" stroke="#000" stroke-width="0.4" textLength="15.03" lengthAdjust="spacingAndGlyphs">3</text>
<line x1="1279.7" y1="163.6" x2="1293.2" y2="163.6" stroke="#000" stroke-width="3" stroke-linecap="butt"/>
<text x="1275.2" y="173.2" font-family="Liberation Sans, sans-serif" font-size="28" font-weight="normal" text-anchor="end" fill="#000" stroke="#000" stroke-width="0.4" textLength="15.03" lengthAdjust="spacingAndGlyphs">4</text>
<line x1="1279.7" y1="101.6" x2="1293.2" y2="101.6" stroke="#000" stroke-width="3" stroke-linecap="butt"/>
<text x="1275.2" y="111.2" font-family="Liberation Sans, sans-serif" font-size="28" font-weight="normal" text-anchor="end" fill="#000" stroke="#000" stroke-width="0.4" textLength="15.03" lengthAdjust="spacingAndGlyphs">5</text>
<line x1="1334.6" y1="411.8" x2="1334.6" y2="425.2" stroke="#000" stroke-width="3" stroke-linecap="butt"/>
<line x1="1396.6" y1="411.8" x2="1396.6" y2="425.2" stroke="#000" stroke-width="3" stroke-linecap="butt"/>
<line x1="1458.2" y1="411.8" x2="1458.2" y2="425.2" stroke="#000" stroke-width="3" stroke-linecap="butt"/>
<text x="1340.6" y="446.5" font-family="Liberation Sans, sans-serif" font-size="26.3" font-weight="normal" text-anchor="end" fill="#000" stroke="#000" stroke-width="0.4" transform="rotate(-45 1340.6 446.5)">Control</text>
<text x="1402.6" y="446.5" font-family="Liberation Sans, sans-serif" font-size="26.3" font-weight="normal" text-anchor="end" fill="#000" stroke="#000" stroke-width="0.4" transform="rotate(-45 1402.6 446.5)">CPE+Clinda</text>
<text x="1464.2" y="446.5" font-family="Liberation Sans, sans-serif" font-size="26.3" font-weight="normal" text-anchor="end" fill="#000" stroke="#000" stroke-width="0.4" transform="rotate(-45 1464.2 446.5)">FMT</text>
<circle cx="1334.2" cy="173.1" r="4.75" fill="none" stroke="#BE3B2B" stroke-width="3.1"/>
<circle cx="1334.2" cy="229.5" r="4.75" fill="none" stroke="#BE3B2B" stroke-width="3.1"/>
<circle cx="1334.2" cy="246.2" r="4.75" fill="none" stroke="#BE3B2B" stroke-width="3.1"/>
<circle cx="1329.0" cy="271.3" r="4.75" fill="none" stroke="#BE3B2B" stroke-width="3.1"/>
<circle cx="1318.2" cy="278.6" r="4.75" fill="none" stroke="#BE3B2B" stroke-width="3.1"/>
<circle cx="1329.0" cy="281.7" r="4.75" fill="none" stroke="#BE3B2B" stroke-width="3.1"/>
<circle cx="1339.6" cy="277.8" r="4.75" fill="none" stroke="#BE3B2B" stroke-width="3.1"/>
<circle cx="1350.6" cy="277.0" r="4.75" fill="none" stroke="#BE3B2B" stroke-width="3.1"/>
<circle cx="1334.2" cy="297.6" r="4.75" fill="none" stroke="#BE3B2B" stroke-width="3.1"/>
<circle cx="1334.2" cy="309.4" r="4.75" fill="none" stroke="#BE3B2B" stroke-width="3.1"/>
<circle cx="1329.0" cy="331.4" r="4.75" fill="none" stroke="#BE3B2B" stroke-width="3.1"/>
<circle cx="1339.6" cy="333.5" r="4.75" fill="none" stroke="#BE3B2B" stroke-width="3.1"/>
<circle cx="1323.6" cy="411.9" r="4.75" fill="none" stroke="#BE3B2B" stroke-width="3.1"/>
<circle cx="1334.4" cy="411.9" r="4.75" fill="none" stroke="#BE3B2B" stroke-width="3.1"/>
<circle cx="1345.1" cy="411.9" r="4.75" fill="none" stroke="#BE3B2B" stroke-width="3.1"/>
<circle cx="1387.2" cy="149.4" r="4.75" fill="none" stroke="#1F864C" stroke-width="3.1"/>
<circle cx="1405.8" cy="147.5" r="4.75" fill="none" stroke="#1F864C" stroke-width="3.1"/>
<circle cx="1405.8" cy="157.5" r="4.75" fill="none" stroke="#1F864C" stroke-width="3.1"/>
<circle cx="1396.4" cy="172.4" r="4.75" fill="none" stroke="#1F864C" stroke-width="3.1"/>
<circle cx="1396.4" cy="185.0" r="4.75" fill="none" stroke="#1F864C" stroke-width="3.1"/>
<circle cx="1387.2" cy="209.7" r="4.75" fill="none" stroke="#1F864C" stroke-width="3.1"/>
<circle cx="1405.8" cy="205.6" r="4.75" fill="none" stroke="#1F864C" stroke-width="3.1"/>
<circle cx="1405.8" cy="233.3" r="4.75" fill="none" stroke="#1F864C" stroke-width="3.1"/>
<circle cx="1387.2" cy="241.5" r="4.75" fill="none" stroke="#1F864C" stroke-width="3.1"/>
<circle cx="1405.8" cy="243.7" r="4.75" fill="none" stroke="#1F864C" stroke-width="3.1"/>
<circle cx="1396.4" cy="260.9" r="4.75" fill="none" stroke="#1F864C" stroke-width="3.1"/>
<circle cx="1405.8" cy="292.8" r="4.75" fill="none" stroke="#1F864C" stroke-width="3.1"/>
<circle cx="1387.2" cy="300.1" r="4.75" fill="none" stroke="#1F864C" stroke-width="3.1"/>
<circle cx="1396.4" cy="333.6" r="4.75" fill="none" stroke="#1F864C" stroke-width="3.1"/>
<circle cx="1396.4" cy="411.9" r="4.75" fill="none" stroke="#1F864C" stroke-width="3.1"/>
<circle cx="1458.2" cy="136.7" r="4.75" fill="none" stroke="#7674B2" stroke-width="3.1"/>
<circle cx="1458.4" cy="218.8" r="4.75" fill="none" stroke="#7674B2" stroke-width="3.1"/>
<circle cx="1447.8" cy="247.6" r="4.75" fill="none" stroke="#7674B2" stroke-width="3.1"/>
<circle cx="1458.4" cy="252.3" r="4.75" fill="none" stroke="#7674B2" stroke-width="3.1"/>
<circle cx="1468.9" cy="250.7" r="4.75" fill="none" stroke="#7674B2" stroke-width="3.1"/>
<circle cx="1458.4" cy="269.0" r="4.75" fill="none" stroke="#7674B2" stroke-width="3.1"/>
<circle cx="1442.2" cy="293.0" r="4.75" fill="none" stroke="#7674B2" stroke-width="3.1"/>
<circle cx="1453.2" cy="293.6" r="4.75" fill="none" stroke="#7674B2" stroke-width="3.1"/>
<circle cx="1463.9" cy="293.0" r="4.75" fill="none" stroke="#7674B2" stroke-width="3.1"/>
<circle cx="1475.0" cy="293.6" r="4.75" fill="none" stroke="#7674B2" stroke-width="3.1"/>
<circle cx="1452.9" cy="333.6" r="4.75" fill="none" stroke="#7674B2" stroke-width="3.1"/>
<circle cx="1463.8" cy="333.6" r="4.75" fill="none" stroke="#7674B2" stroke-width="3.1"/>
<circle cx="1458.1" cy="352.5" r="4.75" fill="none" stroke="#7674B2" stroke-width="3.1"/>
<circle cx="1452.9" cy="411.8" r="4.75" fill="none" stroke="#7674B2" stroke-width="3.1"/>
<circle cx="1463.8" cy="411.8" r="4.75" fill="none" stroke="#7674B2" stroke-width="3.1"/>
<text x="1246.6" y="254.2" font-family="Liberation Sans, sans-serif" font-size="31" font-weight="normal" text-anchor="middle" fill="#000" stroke="#000" stroke-width="0.4" transform="rotate(-90 1246.6 254.2)" textLength="228.7" lengthAdjust="spacingAndGlyphs">Spleen CFU (log)</text>
<line x1="1334.3" y1="99.2" x2="1396.8" y2="99.2" stroke="#808080" stroke-width="1.6" stroke-linecap="butt"/>
<line x1="1365.90" y1="71.90" x2="1365.90" y2="86.30" stroke="#000" stroke-width="3.3"/>
<line x1="1360.05" y1="75.72" x2="1371.75" y2="82.47" stroke="#000" stroke-width="3.3"/>
<line x1="1360.05" y1="82.47" x2="1371.75" y2="75.72" stroke="#000" stroke-width="3.3"/>
<path d="M152.2,921.5 V749.7 H189.2 V921.5" fill="none" stroke="#BE3B2B" stroke-width="4.6"/>
<path d="M214.0,921.5 V712.4 H251.0 V921.5" fill="none" stroke="#1F864C" stroke-width="4.6"/>
<path d="M275.9,921.5 V762.7 H312.9 V921.5" fill="none" stroke="#7674B2" stroke-width="4.6"/>
<line x1="170.7" y1="698.3" x2="170.7" y2="796.7" stroke="#BE3B2B" stroke-width="1.8" stroke-linecap="butt"/>
<line x1="159.7" y1="698.3" x2="181.7" y2="698.3" stroke="#BE3B2B" stroke-width="1.8" stroke-linecap="butt"/>
<line x1="159.7" y1="796.7" x2="181.7" y2="796.7" stroke="#BE3B2B" stroke-width="1.8" stroke-linecap="butt"/>
<line x1="232.5" y1="684.0" x2="232.5" y2="735.4" stroke="#1F864C" stroke-width="1.8" stroke-linecap="butt"/>
<line x1="221.5" y1="684.0" x2="243.5" y2="684.0" stroke="#1F864C" stroke-width="1.8" stroke-linecap="butt"/>
<line x1="221.5" y1="735.4" x2="243.5" y2="735.4" stroke="#1F864C" stroke-width="1.8" stroke-linecap="butt"/>
<line x1="294.4" y1="714.9" x2="294.4" y2="808.1" stroke="#7674B2" stroke-width="1.8" stroke-linecap="butt"/>
<line x1="283.4" y1="714.9" x2="305.4" y2="714.9" stroke="#7674B2" stroke-width="1.8" stroke-linecap="butt"/>
<line x1="283.4" y1="808.1" x2="305.4" y2="808.1" stroke="#7674B2" stroke-width="1.8" stroke-linecap="butt"/>
<line x1="129.3" y1="610.0" x2="129.3" y2="923.0" stroke="#000" stroke-width="3" stroke-linecap="butt"/>
<line x1="115.8" y1="921.5" x2="336.0" y2="921.5" stroke="#000" stroke-width="3" stroke-linecap="butt"/>
<line x1="115.8" y1="921.5" x2="129.3" y2="921.5" stroke="#000" stroke-width="3" stroke-linecap="butt"/>
<text x="112.0" y="931.1" font-family="Liberation Sans, sans-serif" font-size="28" font-weight="normal" text-anchor="end" fill="#000" stroke="#000" stroke-width="0.4" textLength="15.03" lengthAdjust="spacingAndGlyphs">5</text>
<line x1="115.8" y1="766.5" x2="129.3" y2="766.5" stroke="#000" stroke-width="3" stroke-linecap="butt"/>
<text x="112.0" y="776.1" font-family="Liberation Sans, sans-serif" font-size="28" font-weight="normal" text-anchor="end" fill="#000" stroke="#000" stroke-width="0.4" textLength="15.03" lengthAdjust="spacingAndGlyphs">6</text>
<line x1="115.8" y1="611.5" x2="129.3" y2="611.5" stroke="#000" stroke-width="3" stroke-linecap="butt"/>
<text x="112.0" y="621.1" font-family="Liberation Sans, sans-serif" font-size="28" font-weight="normal" text-anchor="end" fill="#000" stroke="#000" stroke-width="0.4" textLength="15.03" lengthAdjust="spacingAndGlyphs">7</text>
<line x1="170.7" y1="921.5" x2="170.7" y2="934.9" stroke="#000" stroke-width="3" stroke-linecap="butt"/>
<line x1="232.5" y1="921.5" x2="232.5" y2="934.9" stroke="#000" stroke-width="3" stroke-linecap="butt"/>
<line x1="294.4" y1="921.5" x2="294.4" y2="934.9" stroke="#000" stroke-width="3" stroke-linecap="butt"/>
<text x="176.7" y="956.0" font-family="Liberation Sans, sans-serif" font-size="26.3" font-weight="normal" text-anchor="end" fill="#000" stroke="#000" stroke-width="0.4" transform="rotate(-45 176.7 956.0)">Control</text>
<text x="238.5" y="956.0" font-family="Liberation Sans, sans-serif" font-size="26.3" font-weight="normal" text-anchor="end" fill="#000" stroke="#000" stroke-width="0.4" transform="rotate(-45 238.5 956.0)">CPE+Clinda</text>
<text x="300.4" y="956.0" font-family="Liberation Sans, sans-serif" font-size="26.3" font-weight="normal" text-anchor="end" fill="#000" stroke="#000" stroke-width="0.4" transform="rotate(-45 300.4 956.0)">FMT</text>
<circle cx="170.6" cy="658.4" r="4.75" fill="none" stroke="#BE3B2B" stroke-width="3.1"/>
<circle cx="170.6" cy="675.3" r="4.75" fill="none" stroke="#BE3B2B" stroke-width="3.1"/>
<circle cx="170.6" cy="690.2" r="4.75" fill="none" stroke="#BE3B2B" stroke-width="3.1"/>
<circle cx="170.6" cy="716.6" r="4.75" fill="none" stroke="#BE3B2B" stroke-width="3.1"/>
<circle cx="162.7" cy="739.4" r="4.75" fill="none" stroke="#BE3B2B" stroke-width="3.1"/>
<circle cx="178.6" cy="736.0" r="4.75" fill="none" stroke="#BE3B2B" stroke-width="3.1"/>
<circle cx="170.7" cy="752.5" r="4.75" fill="none" stroke="#BE3B2B" stroke-width="3.1"/>
<circle cx="170.7" cy="763.4" r="4.75" fill="none" stroke="#BE3B2B" stroke-width="3.1"/>
<circle cx="154.4" cy="766.2" r="4.75" fill="none" stroke="#BE3B2B" stroke-width="3.1"/>
<circle cx="186.6" cy="764.8" r="4.75" fill="none" stroke="#BE3B2B" stroke-width="3.1"/>
<circle cx="170.7" cy="773.9" r="4.75" fill="none" stroke="#BE3B2B" stroke-width="3.1"/>
<circle cx="170.6" cy="789.8" r="4.75" fill="none" stroke="#BE3B2B" stroke-width="3.1"/>
<circle cx="170.6" cy="803.8" r="4.75" fill="none" stroke="#BE3B2B" stroke-width="3.1"/>
<circle cx="170.6" cy="832.6" r="4.75" fill="none" stroke="#BE3B2B" stroke-width="3.1"/>
<circle cx="248.6" cy="663.8" r="4.75" fill="none" stroke="#1F864C" stroke-width="3.1"/>
<circle cx="232.6" cy="672.5" r="4.75" fill="none" stroke="#1F864C" stroke-width="3.1"/>
<circle cx="232.6" cy="687.6" r="4.75" fill="none" stroke="#1F864C" stroke-width="3.1"/>
<circle cx="232.6" cy="697.6" r="4.75" fill="none" stroke="#1F864C" stroke-width="3.1"/>
<circle cx="216.5" cy="701.2" r="4.75" fill="none" stroke="#1F864C" stroke-width="3.1"/>
<circle cx="248.6" cy="701.2" r="4.75" fill="none" stroke="#1F864C" stroke-width="3.1"/>
<circle cx="232.6" cy="708.5" r="4.75" fill="none" stroke="#1F864C" stroke-width="3.1"/>
<circle cx="216.5" cy="714.8" r="4.75" fill="none" stroke="#1F864C" stroke-width="3.1"/>
<circle cx="248.6" cy="710.6" r="4.75" fill="none" stroke="#1F864C" stroke-width="3.1"/>
<circle cx="232.6" cy="720.0" r="4.75" fill="none" stroke="#1F864C" stroke-width="3.1"/>
<circle cx="216.5" cy="726.8" r="4.75" fill="none" stroke="#1F864C" stroke-width="3.1"/>
<circle cx="248.6" cy="728.9" r="4.75" fill="none" stroke="#1F864C" stroke-width="3.1"/>
<circle cx="232.6" cy="739.4" r="4.75" fill="none" stroke="#1F864C" stroke-width="3.1"/>
<circle cx="232.6" cy="763.3" r="4.75" fill="none" stroke="#1F864C" stroke-width="3.1"/>
<circle cx="294.2" cy="677.4" r="4.75" fill="none" stroke="#7674B2" stroke-width="3.1"/>
<circle cx="294.2" cy="693.6" r="4.75" fill="none" stroke="#7674B2" stroke-width="3.1"/>
<circle cx="294.2" cy="709.8" r="4.75" fill="none" stroke="#7674B2" stroke-width="3.1"/>
<circle cx="294.2" cy="726.8" r="4.75" fill="none" stroke="#7674B2" stroke-width="3.1"/>
<circle cx="299.6" cy="748.7" r="4.75" fill="none" stroke="#7674B2" stroke-width="3.1"/>
<circle cx="289.0" cy="756.3" r="4.75" fill="none" stroke="#7674B2" stroke-width="3.1"/>
<circle cx="278.5" cy="768.0" r="4.75" fill="none" stroke="#7674B2" stroke-width="3.1"/>
<circle cx="289.0" cy="766.8" r="4.75" fill="none" stroke="#7674B2" stroke-width="3.1"/>
<circle cx="299.6" cy="765.7" r="4.75" fill="none" stroke="#7674B2" stroke-width="3.1"/>
<circle cx="311.1" cy="773.4" r="4.75" fill="none" stroke="#7674B2" stroke-width="3.1"/>
<circle cx="278.5" cy="781.5" r="4.75" fill="none" stroke="#7674B2" stroke-width="3.1"/>
<circle cx="299.6" cy="777.0" r="4.75" fill="none" stroke="#7674B2" stroke-width="3.1"/>
<circle cx="289.0" cy="790.4" r="4.75" fill="none" stroke="#7674B2" stroke-width="3.1"/>
<circle cx="294.2" cy="836.9" r="4.75" fill="none" stroke="#7674B2" stroke-width="3.1"/>
<circle cx="294.2" cy="847.9" r="4.75" fill="none" stroke="#7674B2" stroke-width="3.1"/>
<text x="84.0" y="763.5" font-family="Liberation Sans, sans-serif" font-size="31" font-weight="normal" text-anchor="middle" fill="#000" stroke="#000" stroke-width="0.4" transform="rotate(-90 84.0 763.5)" textLength="334.2" lengthAdjust="spacingAndGlyphs">BAL Number of cells (log)</text>
<line x1="232.5" y1="621.3" x2="294.7" y2="621.3" stroke="#3a3a3a" stroke-width="1.6" stroke-linecap="butt"/>
<line x1="256.75" y1="594.50" x2="256.75" y2="608.90" stroke="#000" stroke-width="3.3"/>
<line x1="250.90" y1="598.32" x2="262.60" y2="605.07" stroke="#000" stroke-width="3.3"/>
<line x1="250.90" y1="605.07" x2="262.60" y2="598.32" stroke="#000" stroke-width="3.3"/>
<line x1="271.15" y1="594.50" x2="271.15" y2="608.90" stroke="#000" stroke-width="3.3"/>
<line x1="265.30" y1="598.32" x2="277.00" y2="605.07" stroke="#000" stroke-width="3.3"/>
<line x1="265.30" y1="605.07" x2="277.00" y2="598.32" stroke="#000" stroke-width="3.3"/>
<text x="-1.0" y="30.0" font-family="Liberation Sans, sans-serif" font-size="41" font-weight="bold" text-anchor="start" fill="#111" stroke="#111" stroke-width="0.4" textLength="34.63" lengthAdjust="spacingAndGlyphs">a)</text>
<text x="765.0" y="30.0" font-family="Liberation Sans, sans-serif" font-size="41" font-weight="bold" text-anchor="start" fill="#111" stroke="#111" stroke-width="0.4">b)</text>
<text x="-0.5" y="591.0" font-family="Liberation Sans, sans-serif" font-size="41" font-weight="bold" text-anchor="start" fill="#111" stroke="#111" stroke-width="0.4">c)</text>
<text x="565.0" y="603.0" font-family="Liberation Sans, sans-serif" font-size="41" font-weight="bold" text-anchor="start" fill="#111" stroke="#111" stroke-width="0.4">d)</text>
<path d="M780.2,598.9 L780.2,684.4 L804.8,684.4 L804.8,705.8 L877.2,705.8 L877.2,748.6 L881.0,748.6 L881.0,791.3 L883.2,791.3 L883.2,812.7 L891.2,812.7 L891.2,834.1 L901.4,834.1 L901.4,855.5 L977.5,855.5 L977.5,898.2 L1190.5,898.2" fill="none" stroke="#1F864C" stroke-width="4.7" stroke-linejoin="miter" stroke-linecap="round"/>
<path d="M881.3,728.2 L881.3,748.6" fill="none" stroke="#7674B2" stroke-width="4.7" stroke-linejoin="miter" stroke-linecap="butt"/>
<path d="M995.7,769.9 L995.7,791.3 L1190.5,791.3" fill="none" stroke="#7674B2" stroke-width="4.7" stroke-linejoin="miter" stroke-linecap="round"/>
<path d="M780.2,598.9 L780.2,620.4" fill="none" stroke="#E08A2B" stroke-width="4.7" stroke-linejoin="miter" stroke-linecap="butt"/>
<path d="M806.0,663.0 L825.2,663.0 L825.2,684.4 L881.3,684.4 L881.3,705.8 L901.0,705.8 L901.0,727.2 L977.4,727.2 L977.4,769.9 L1190.5,769.9" fill="none" stroke="#E08A2B" stroke-width="4.7" stroke-linejoin="miter" stroke-linecap="round"/>
<path d="M784.9,598.9 L784.9,641.6 L804.8,641.6 L804.8,705.8 L885.3,705.8 L885.3,748.6 L990.0,748.6" fill="none" stroke="#0A72B9" stroke-width="4.7" stroke-linejoin="miter" stroke-linecap="round"/>
<path d="M708.6,598.9 L804.8,598.9 L804.8,641.6 L825.2,641.6 L825.2,663.0 L877.3,663.0 L877.3,705.8 L905.2,705.8 L905.2,727.2 L989.4,727.2 L989.4,748.6 L1190.5,748.6" fill="none" stroke="#BE3B2B" stroke-width="4.7" stroke-linejoin="miter" stroke-linecap="round"/>
<line x1="708.6" y1="597.4" x2="708.6" y2="921.1" stroke="#000" stroke-width="3" stroke-linecap="butt"/>
<line x1="707.1" y1="919.6" x2="1190.5" y2="919.6" stroke="#000" stroke-width="3" stroke-linecap="butt"/>
<line x1="695.6" y1="919.6" x2="708.6" y2="919.6" stroke="#000" stroke-width="3" stroke-linecap="butt"/>
<text x="690.3" y="929.2" font-family="Liberation Sans, sans-serif" font-size="28" font-weight="normal" text-anchor="end" fill="#000" stroke="#000" stroke-width="0.4" textLength="15.03" lengthAdjust="spacingAndGlyphs">0</text>
<line x1="701.6" y1="887.5" x2="708.6" y2="887.5" stroke="#000" stroke-width="3" stroke-linecap="butt"/>
<line x1="701.6" y1="855.5" x2="708.6" y2="855.5" stroke="#000" stroke-width="3" stroke-linecap="butt"/>
<line x1="701.6" y1="823.4" x2="708.6" y2="823.4" stroke="#000" stroke-width="3" stroke-linecap="butt"/>
<line x1="701.6" y1="791.3" x2="708.6" y2="791.3" stroke="#000" stroke-width="3" stroke-linecap="butt"/>
<line x1="695.6" y1="759.2" x2="708.6" y2="759.2" stroke="#000" stroke-width="3" stroke-linecap="butt"/>
<text x="690.3" y="768.9" font-family="Liberation Sans, sans-serif" font-size="28" font-weight="normal" text-anchor="end" fill="#000" stroke="#000" stroke-width="0.4" textLength="30.05" lengthAdjust="spacingAndGlyphs">50</text>
<line x1="701.6" y1="727.2" x2="708.6" y2="727.2" stroke="#000" stroke-width="3" stroke-linecap="butt"/>
<line x1="701.6" y1="695.1" x2="708.6" y2="695.1" stroke="#000" stroke-width="3" stroke-linecap="butt"/>
<line x1="701.6" y1="663.0" x2="708.6" y2="663.0" stroke="#000" stroke-width="3" stroke-linecap="butt"/>
<line x1="701.6" y1="631.0" x2="708.6" y2="631.0" stroke="#000" stroke-width="3" stroke-linecap="butt"/>
<line x1="695.6" y1="598.9" x2="708.6" y2="598.9" stroke="#000" stroke-width="3" stroke-linecap="butt"/>
<text x="690.3" y="608.5" font-family="Liberation Sans, sans-serif" font-size="28" font-weight="normal" text-anchor="end" fill="#000" stroke="#000" stroke-width="0.4" textLength="45.08" lengthAdjust="spacingAndGlyphs">100</text>
<line x1="708.6" y1="919.6" x2="708.6" y2="933.6" stroke="#000" stroke-width="3" stroke-linecap="butt"/>
<text x="708.6" y="963.6" font-family="Liberation Sans, sans-serif" font-size="28" font-weight="normal" text-anchor="middle" fill="#000" stroke="#000" stroke-width="0.4" textLength="15.03" lengthAdjust="spacingAndGlyphs">0</text>
<line x1="804.8" y1="919.6" x2="804.8" y2="933.6" stroke="#000" stroke-width="3" stroke-linecap="butt"/>
<text x="804.8" y="963.6" font-family="Liberation Sans, sans-serif" font-size="28" font-weight="normal" text-anchor="middle" fill="#000" stroke="#000" stroke-width="0.4" textLength="30.05" lengthAdjust="spacingAndGlyphs">24</text>
<line x1="901.0" y1="919.6" x2="901.0" y2="933.6" stroke="#000" stroke-width="3" stroke-linecap="butt"/>
<text x="901.0" y="963.6" font-family="Liberation Sans, sans-serif" font-size="28" font-weight="normal" text-anchor="middle" fill="#000" stroke="#000" stroke-width="0.4" textLength="30.05" lengthAdjust="spacingAndGlyphs">48</text>
<line x1="997.2" y1="919.6" x2="997.2" y2="933.6" stroke="#000" stroke-width="3" stroke-linecap="butt"/>
<text x="997.2" y="963.6" font-family="Liberation Sans, sans-serif" font-size="28" font-weight="normal" text-anchor="middle" fill="#000" stroke="#000" stroke-width="0.4" textLength="30.05" lengthAdjust="spacingAndGlyphs">72</text>
<line x1="1093.4" y1="919.6" x2="1093.4" y2="933.6" stroke="#000" stroke-width="3" stroke-linecap="butt"/>
<text x="1093.4" y="963.6" font-family="Liberation Sans, sans-serif" font-size="28" font-weight="normal" text-anchor="middle" fill="#000" stroke="#000" stroke-width="0.4" textLength="30.05" lengthAdjust="spacingAndGlyphs">96</text>
<line x1="1189.6" y1="919.6" x2="1189.6" y2="933.6" stroke="#000" stroke-width="3" stroke-linecap="butt"/>
<text x="1189.6" y="963.6" font-family="Liberation Sans, sans-serif" font-size="28" font-weight="normal" text-anchor="middle" fill="#000" stroke="#000" stroke-width="0.4" textLength="45.08" lengthAdjust="spacingAndGlyphs">120</text>
<text x="950.0" y="1003.0" font-family="Liberation Sans, sans-serif" font-size="27.5" font-weight="normal" text-anchor="middle" fill="#000" stroke="#000" stroke-width="0.4" textLength="55.25" lengthAdjust="spacingAndGlyphs">Hour</text>
<text x="630.9" y="756.6" font-family="Liberation Sans, sans-serif" font-size="31" font-weight="normal" text-anchor="middle" fill="#000" stroke="#000" stroke-width="0.4" transform="rotate(-90 630.9 756.6)" textLength="222.0" lengthAdjust="spacingAndGlyphs">Percent Survival</text>
<text x="744" y="879.3" font-family="Liberation Sans, sans-serif" font-size="27.5" fill="#000" stroke="#000" stroke-width="0.4" textLength="95.70" lengthAdjust="spacingAndGlyphs"><tspan font-style="italic">P</tspan> = 0.03</text>
<line x1="1266.9" y1="712.0" x2="1300.4" y2="712.0" stroke="#BE3B2B" stroke-width="4.6" stroke-linecap="round"/>
<text x="1320.5" y="721.3" font-family="Liberation Sans, sans-serif" font-size="26.5" font-weight="normal" text-anchor="start" fill="#000" stroke="#000" stroke-width="0.4" textLength="84.14" lengthAdjust="spacingAndGlyphs">Control</text>
<line x1="1266.9" y1="757.0" x2="1300.4" y2="757.0" stroke="#0A72B9" stroke-width="4.6" stroke-linecap="round"/>
<text x="1320.5" y="766.2" font-family="Liberation Sans, sans-serif" font-size="26.5" font-weight="normal" text-anchor="start" fill="#000" stroke="#000" stroke-width="0.4" textLength="53.67" lengthAdjust="spacingAndGlyphs">CPE</text>
<line x1="1266.9" y1="801.9" x2="1300.4" y2="801.9" stroke="#E08A2B" stroke-width="4.6" stroke-linecap="round"/>
<text x="1320.5" y="811.2" font-family="Liberation Sans, sans-serif" font-size="26.5" font-weight="normal" text-anchor="start" fill="#000" stroke="#000" stroke-width="0.4" textLength="74.00" lengthAdjust="spacingAndGlyphs">Clinda</text>
<line x1="1266.9" y1="846.9" x2="1300.4" y2="846.9" stroke="#7674B2" stroke-width="4.6" stroke-linecap="round"/>
<text x="1320.5" y="856.1" font-family="Liberation Sans, sans-serif" font-size="26.5" font-weight="normal" text-anchor="start" fill="#000" stroke="#000" stroke-width="0.4" textLength="53.63" lengthAdjust="spacingAndGlyphs">FMT</text>
<line x1="1266.9" y1="891.8" x2="1300.4" y2="891.8" stroke="#1F864C" stroke-width="4.6" stroke-linecap="round"/>
<text x="1320.5" y="901.1" font-family="Liberation Sans, sans-serif" font-size="26.5" font-weight="normal" text-anchor="start" fill="#000" stroke="#000" stroke-width="0.4" textLength="142.91" lengthAdjust="spacingAndGlyphs">CPE+Clinda</text>
</svg></body></html>
